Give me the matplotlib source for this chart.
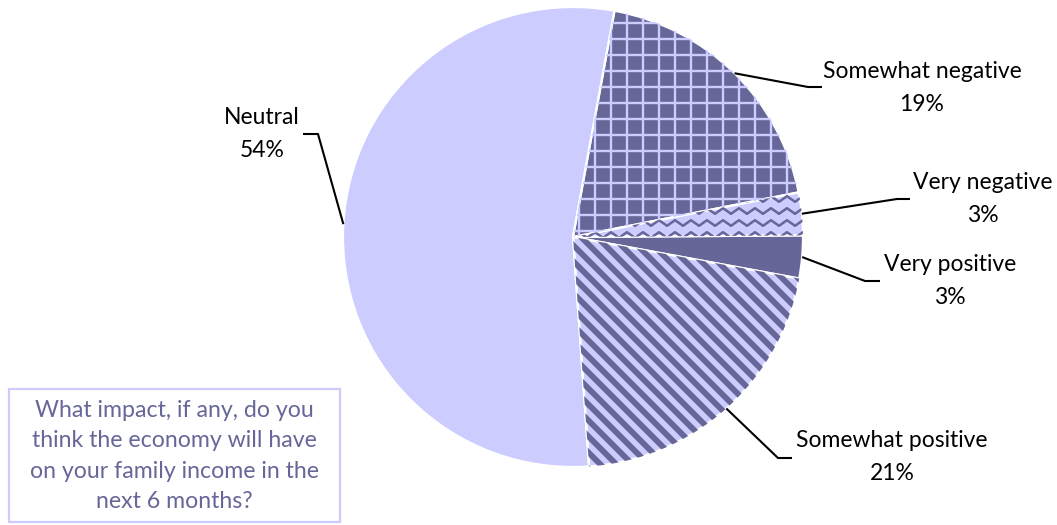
import numpy as np
import matplotlib.pyplot as plt
from matplotlib.patches import Wedge, Rectangle

# survey answers, clockwise from the top of the pie
labels = ["Somewhat negative", "Very negative", "Very positive",
          "Somewhat positive", "Neutral"]
shares = [19, 3, 3, 21, 54]
question = ("What impact, if any, do you\nthink the economy will have\n"
            "on your family income in the\nnext 6 months?")

DARK = "#666699"
LIGHT = "#ccccff"
FONT = "Lato"

W, H = 1057, 525
fig = plt.figure(figsize=(W / 100, H / 100), dpi=100)
ax = fig.add_axes([0, 0, 1, 1])

cx, cy, r = 573, H - 237, 230
fills = [DARK, LIGHT, DARK, LIGHT, LIGHT]
wedges, _ = ax.pie(shares, startangle=79.6, counterclock=False,
                   center=(cx, cy), radius=r, colors=fills, frame=True,
                   wedgeprops=dict(edgecolor="none", linewidth=0))
ax.set_xlim(0, W)
ax.set_ylim(0, H)
ax.axis("off")


def clipped_lines(wedge, segs, color, lw):
    for xs, ys in segs:
        ln, = ax.plot(xs, ys, color=color, lw=lw, solid_capstyle="butt")
        ln.set_clip_path(wedge)


x0, x1 = cx - r - 20, cx + r + 20
y0, y1 = cy - r - 20, cy + r + 20

# grid pattern on "Somewhat negative"
grid = [([x, x], [y0, y1]) for x in np.arange(x0, x1, 16)]
grid += [([x0, x1], [y, y]) for y in np.arange(y0, y1, 16)]
clipped_lines(wedges[0], grid, LIGHT, 1.7)

# zigzag pattern on "Very negative"
zx = np.arange(x0, x1, 8)
zig = np.where(np.arange(len(zx)) % 2 == 0, 2.8, -2.8)
clipped_lines(wedges[1], [(zx, y + zig) for y in np.arange(y0, y1, 12)],
              DARK, 1.8)

# diagonal stripes on "Somewhat positive"
stripes = [([x, x + 2 * r + 60], [y1, y1 - 2 * r - 60])
           for x in np.arange(x0 - 2 * r - 60, x1, 16)]
clipped_lines(wedges[3], stripes, DARK, 4.2)

# white separators between slices
for w in wedges:
    ax.add_patch(Wedge((cx, cy), r, w.theta1, w.theta2, fill=False,
                       edgecolor="white", linewidth=1.6))

# label block centre and leader line bend/end points
label_pos = [(922, 88), (983, 199), (950, 281), (892, 457), (262, 134)]
leaders = [[(808, 87), (822, 87)], [(897, 199), (910, 199)],
           [(865, 281), (880, 281)], [(778, 458), (792, 458)],
           [(318, 134), (303, 134)]]

for w, name, val, (tx, ty), pts in zip(wedges, labels, shares, label_pos, leaders):
    mid = np.deg2rad((w.theta1 + w.theta2) / 2)
    sx, sy = cx + r * np.cos(mid), cy + r * np.sin(mid)
    xs = [sx] + [p[0] for p in pts]
    ys = [sy] + [H - p[1] for p in pts]
    ax.plot(xs, ys, color="black", lw=1.5, solid_capstyle="butt")
    ax.text(tx, H - ty, f"{name}\n{val}%", ha="center", va="center",
            fontsize=16.5, family=FONT, linespacing=1.65)

# question box
ax.add_patch(Rectangle((9, H - 522), 331, 133, fill=False,
                       edgecolor=LIGHT, linewidth=1.6))
ax.text(174, H - 456, question, ha="center", va="center", color=DARK,
        fontsize=16.7, family=FONT, linespacing=1.55)

fig.savefig("out.png", dpi=100)
